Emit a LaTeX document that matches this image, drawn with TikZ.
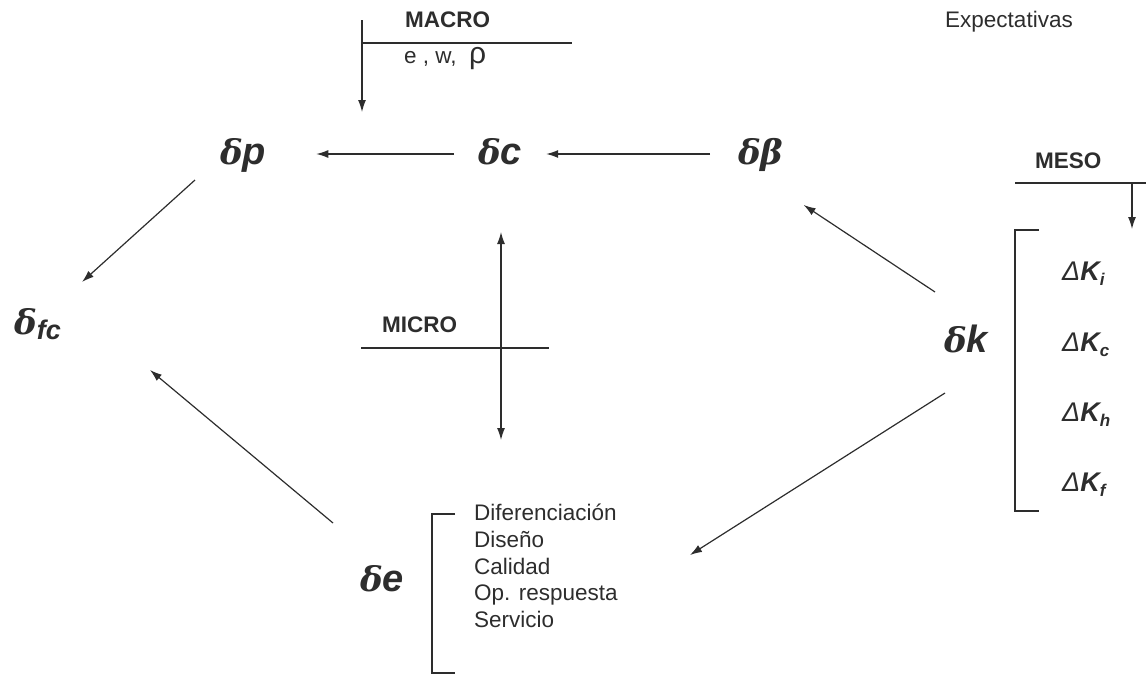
\documentclass[tikz,border=0pt]{standalone}
\usepackage{fontspec}
\setmainfont{Liberation Sans}
\newfontfamily\grkfont{DejaVu Serif}
\usetikzlibrary{positioning, arrows.meta}
\definecolor{inkgray}{RGB}{45,45,45}
\newcommand{\dlt}{{\grkfont\fontsize{34}{34}\selectfont δ}}

\begin{document}
\begin{tikzpicture}[
  x=1pt, y=-1pt, color=inkgray,
  varb/.style={inner sep=0pt, anchor=base west,
               font=\fontsize{38}{38}\selectfont\bfseries\itshape},
  kvar/.style={inner sep=0pt, anchor=base west,
               font=\fontsize{27}{27}\selectfont\bfseries\itshape},
  lvl/.style={inner sep=0pt, anchor=base west,
              font=\fontsize{22.5}{22.5}\selectfont\bfseries},
  txt/.style={inner sep=0pt, font=\fontsize{22.5}{26.7}\selectfont, align=left},
  arr/.style={-{Latex[length=12pt,width=8pt]}, line width=1.2pt},
  arrb/.style={{Latex[length=12pt,width=8pt]}-{Latex[length=12pt,width=8pt]}, line width=1.2pt},
  ln/.style={line width=1.2pt},
]
\useasboundingbox (0,0) rectangle (1146,675);

% Levels: macro, meso, micro
\node[lvl] (macro) at (405,27) {MACRO};
\node[txt, anchor=base west] (macvars) at (404,63) {e , w,\ \ {\fontsize{30}{30}\selectfont ρ}};
\node[txt, anchor=west] (expect) at (945,22) {Expectativas};
\node[lvl] (meso) at (1035,168) {MESO};
\node[lvl] (micro) at (382,332) {MICRO};

\coordinate (macL) at (362,43);
\coordinate (macR) at (572,43);
\coordinate (mesoL) at (1015,183);
\coordinate (mesoR) at (1146,183);
\coordinate (micX) at (501,348);

% Variables
\node[varb] (dp)  at (220,164) {\dlt p};
\node[varb] (dc)  at (478,164) {\dlt c};
\node[varb] (db)  at (738,164) {\dlt{\grkfont\fontsize{34}{34}\selectfont β}};
\node[varb] (dfc) at (14,334)  {\dlt\raisebox{-5pt}{\fontsize{27}{27}\selectfont fc}};
\node[varb] (de)  at (360,591) {\dlt e};
\node[varb] (dk)  at (944,352) {\dlt k};

% Capital stock
\foreach \s/\b in {i/280, c/351, h/421, f/491}
  \node[kvar] (K\s) at (1062,\b) {{\mdseries Δ}K\raisebox{-5pt}{\fontsize{17}{17}\selectfont\s}};
\draw[ln] (1039,230) -- (1015,230) -- (1015,511) -- (1039,511);

% Competitiveness factors
\node[txt, anchor=north west] (lista) at (474,504)
  {Diferenciación\\Diseño\\Calidad\\Op. respuesta\\Servicio};
\draw[ln] (455,514) -- (432,514) -- (432,673) -- (455,673);

% Level lines
\draw[ln] (macL) -- (macR);
\draw[arr] ([yshift=23pt]macL) -- ([yshift=-69pt]macL);
\draw[ln] (mesoL) -- (mesoR);
\draw[arr] ([xshift=117pt]mesoL) -- ([xshift=117pt,yshift=-46pt]mesoL);
\draw[ln] ([xshift=-140pt]micX) -- ([xshift=48pt]micX);
\draw[arrb] ([yshift=116pt]micX) -- ([yshift=-92pt]micX);

% Arrows
\draw[arr] ([shift={(-24,-10)}]dc.base west) -- ([shift={(50,-10)}]dp.base east);
\draw[arr] ([shift={(-28,-10)}]db.base west) -- ([shift={(24,-10)}]dc.base east);
\draw[arr] ([shift={(-25,16)}]dp.base west) -- ([shift={(68,-52)}]dfc.base west);
\draw[arr] ([shift={(-27,-68)}]de.base west) -- ([shift={(136,36)}]dfc.base west);
\draw[arr] ([shift={(-9,-60)}]dk.base west) -- ([shift={(20,41)}]db.base east);
\draw[arr] ([shift={(1,41)}]dk.base west) -- ([shift={(216,51)}]lista.north west);
\end{tikzpicture}
\end{document}
